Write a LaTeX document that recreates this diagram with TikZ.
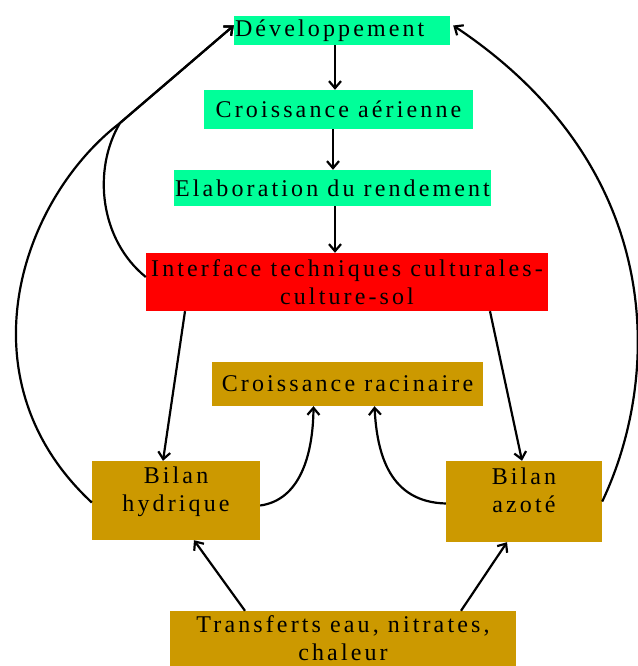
\documentclass[tikz,border=0pt]{standalone}
\usepackage{fontspec}
\setmainfont{Liberation Serif}[LetterSpace=13]
\usepackage{tikz}
\usetikzlibrary{arrows.meta}

\definecolor{vert}{RGB}{0,255,153}
\definecolor{rouge}{RGB}{255,0,0}
\definecolor{ocre}{RGB}{204,153,0}

\tikzset{
    boite/.style={inner sep=0pt, align=center, font=\fontsize{24}{28}\selectfont},
    fleche/.style={-{Straight Barb[length=7pt,width=12pt]}, line width=2.2pt},
}

\begin{document}
\begin{tikzpicture}[x=1pt, y=-1pt]
    \useasboundingbox (0,0) rectangle (637,666);

    \node[boite, fill=vert, minimum width=216, minimum height=29,
          text width=214pt, align=left] (dev) at (342,30.5) {Développement};
    \node[boite, fill=vert, minimum width=269, minimum height=39] (croa) at (338.5,109.5) {Croissance aérienne};
    \node[boite, fill=vert, minimum width=317, minimum height=36] (elab) at (332.5,188) {Elaboration du rendement};
    \node[boite, fill=rouge, minimum width=402, minimum height=58] (iface) at (347,282)
        {Interface techniques culturales-\\culture-sol};
    \node[boite, fill=ocre, minimum width=271, minimum height=44] (racine) at (347.5,384) {Croissance racinaire};
    \node[boite, fill=ocre, minimum width=168, minimum height=79, text depth=22pt] (bh) at (176,500.5) {Bilan\\hydrique};
    \node[boite, fill=ocre, minimum width=156, minimum height=81, text depth=22pt] (ba) at (524,501.5) {Bilan\\azoté};
    \node[boite, fill=ocre, minimum width=346, minimum height=55] (tr) at (343,638.5)
        {Transferts eau, nitrates,\\chaleur};

    \coordinate (jonc) at (120,123);

    % chaine verticale
    \draw[fleche] ([xshift=-7pt]dev.south) -- ([xshift=-7pt]dev.south |- croa.north);
    \draw[fleche] ([xshift=-5.5pt]croa.south) -- ([xshift=-5.5pt]croa.south |- elab.north);
    \draw[fleche] ([xshift=2.5pt]elab.south) -- ([xshift=2.5pt]elab.south |- iface.north);

    \draw[fleche] ([xshift=-162pt]iface.south) -- ([xshift=-13pt]bh.north);
    \draw[fleche] ([xshift=143pt]iface.south) -- ([xshift=-2pt]ba.north);

    \draw[fleche] ([yshift=-5pt]bh.east) .. controls (300,500) and (313,455) .. ([xshift=-34pt]racine.south);
    \draw[fleche] ([yshift=-2pt]ba.west) .. controls (390,502) and (377,455) .. ([xshift=27pt]racine.south);

    \draw[fleche] ([xshift=-98pt]tr.north) -- ([xshift=18pt]bh.south);
    \draw[fleche] ([xshift=118pt]tr.north) -- ([xshift=-17pt]ba.south);

    % boucles vers le developpement
    \draw[fleche] ([yshift=-2pt]bh.west) .. controls (-40,380) and (20,200) .. (jonc) -- ([yshift=5pt]dev.west);
    \draw[fleche] ([yshift=5pt]iface.west) .. controls (100,240) and (92,170) .. (jonc) -- ([yshift=5pt]dev.west);
    \draw[fleche] ([yshift=0pt]ba.east) .. controls (660,380) and (670,170) .. ([xshift=3pt,yshift=5pt]dev.east);
\end{tikzpicture}
\end{document}
